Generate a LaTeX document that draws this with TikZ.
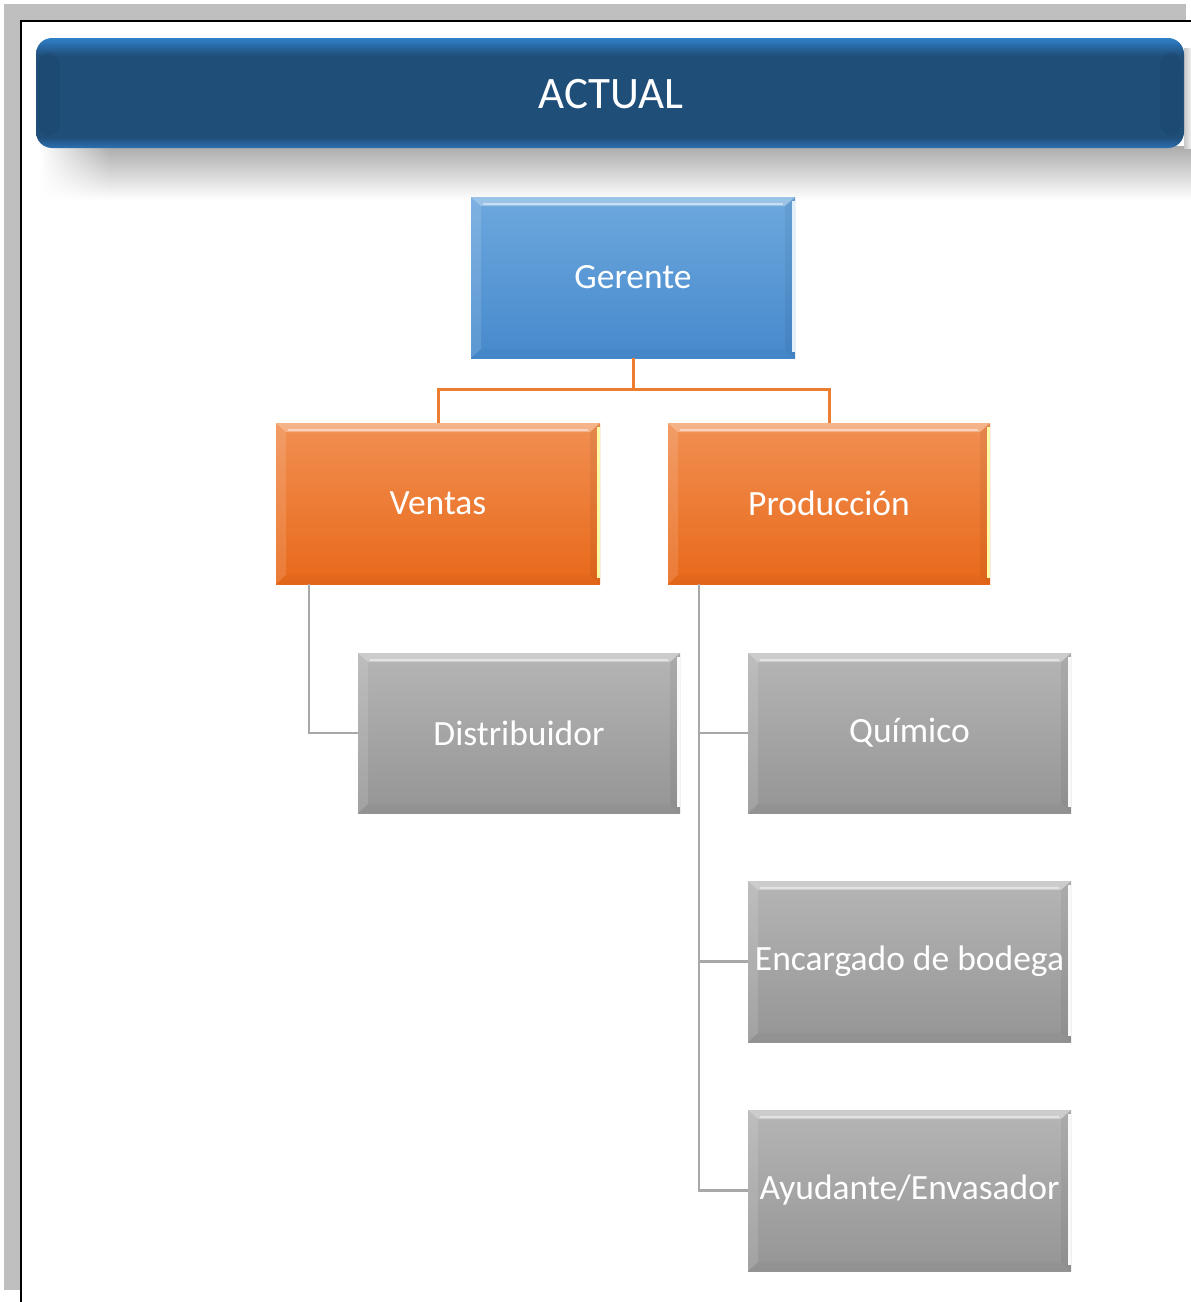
\documentclass[tikz,border=0pt]{standalone}
\usepackage{fontspec}
\setmainfont{Carlito}
\usetikzlibrary{fadings}

\definecolor{framegray}{HTML}{BFBFBF}
\definecolor{hdrdark}{HTML}{1F4E79}
\definecolor{hdrtop}{HTML}{3080C8}
\definecolor{hdrbot}{HTML}{2C70B2}
\definecolor{shadowgray}{HTML}{ABABAB}
\definecolor{bluetop}{HTML}{6DA8DE}
\definecolor{bluebot}{HTML}{4689CC}
\definecolor{orangetop}{HTML}{F18F52}
\definecolor{orangebot}{HTML}{E8691A}
\definecolor{graytop}{HTML}{B5B5B5}
\definecolor{graybot}{HTML}{959595}
\definecolor{linkorange}{HTML}{ED7D31}
\definecolor{linkgray}{HTML}{A8A8A8}

% header band: light rims at top and bottom, dark body
\pgfdeclareverticalshading{headerband}{100bp}{%
  color(0bp)=(hdrbot); color(25bp)=(hdrbot); color(30bp)=(hdrdark);
  color(67bp)=(hdrdark); color(75bp)=(hdrtop); color(100bp)=(hdrtop)}

\tikzset{
  % bevelled box: #1 = colour of the bright right rim
  bevel/.style={path picture={
    \coordinate (nw) at (path picture bounding box.north west);
    \coordinate (ne) at (path picture bounding box.north east);
    \coordinate (sw) at (path picture bounding box.south west);
    \coordinate (se) at (path picture bounding box.south east);
    \fill[white,opacity=.32] (nw) -- (ne) -- ([xshift=-10pt,yshift=-9pt]ne)
      -- ([xshift=10pt,yshift=-9pt]nw) -- cycle;
    \draw[white,opacity=.45,line width=2pt]
      ([xshift=12pt,yshift=-7pt]nw) -- ([xshift=-12pt,yshift=-7pt]ne);
    \fill[white,opacity=.12] (nw) -- ([xshift=10pt,yshift=-9pt]nw)
      -- ([xshift=10pt,yshift=9pt]sw) -- (sw) -- cycle;
    \fill[black,opacity=.025] (sw) -- ([xshift=10pt,yshift=9pt]sw)
      -- ([xshift=-10pt,yshift=9pt]se) -- (se) -- cycle;
    \fill[black,opacity=.05] (ne) -- ([xshift=-10pt,yshift=-9pt]ne)
      -- ([xshift=-10pt,yshift=9pt]se) -- (se) -- cycle;
    \draw[#1,line width=3pt] ([xshift=-1.5pt,yshift=-4pt]ne) -- ([xshift=-1.5pt,yshift=6pt]se);
  }},
  unitbox/.style={rectangle, inner sep=0pt, text=white,
    font=\fontsize{35.5}{41}\selectfont},
  bluebox/.style={unitbox, top color=bluetop, bottom color=bluebot,
    bevel={white!80!bluetop}, minimum width=324pt, minimum height=161pt},
  orangebox/.style={unitbox, top color=orangetop, bottom color=orangebot,
    bevel={yellow!35!white}, minimum width=323pt, minimum height=161pt},
  graybox/.style={unitbox, top color=graytop, bottom color=graybot,
    bevel={white!90!graytop}, minimum width=323pt, minimum height=160pt},
  orangelink/.style={draw=linkorange, line width=3pt},
  graylink/.style={draw=linkgray, line width=2.5pt},
}

\begin{document}
\begin{tikzpicture}[x=1pt,y=-1pt]
\useasboundingbox (0,0) rectangle (1191,1302);
\fill[white] (0,0) rectangle (1191,1302);

% page frame
\fill[framegray] (4,4) rectangle (1186,20);
\fill[framegray] (4,20) rectangle (20,1290);
\draw[black,line width=1.6pt] (20.8,1302) -- (20.8,20.8) -- (1191,20.8);

% header shadow
\shade[top color=shadowgray, bottom color=white] (110,146) rectangle (1191,200);
\shade[top color=shadowgray, bottom color=white, path fading=west]
  (40,146) rectangle (110,200);
\shade[left color=black!22, right color=black!6] (1184,48) rectangle (1191,148);

% header
\shade[shading=headerband, rounded corners=16pt] (36,38) rectangle (1184,148);
\fill[black,opacity=.05,rounded corners=14pt] (38,52) rectangle (60,136);
\fill[black,opacity=.05,rounded corners=14pt] (1160,52) rectangle (1182,136);
\node[text=white, font=\fontsize{45}{52}\selectfont] (title) at (611,94) {ACTUAL};

% boxes
\node[bluebox] (gerente) at (633,277.5) {Gerente};
\node[orangebox, minimum width=324pt] (ventas) at (438,503.5) {Ventas};
\node[orangebox, minimum width=322pt] (produccion) at (829,503.5) {Producción};
\node[graybox, minimum width=322pt] (distribuidor) at (519,733) {Distribuidor};
\node[graybox] (quimico) at (909.5,733) {Químico};
\node[graybox, minimum height=161pt] (encargado) at (909.5,961.5) {Encargado de bodega};
\node[graybox, minimum height=161pt] (ayudante) at (909.5,1190.5) {Ayudante/Envasador};

% connectors
\coordinate (split) at ([yshift=-31pt]gerente.south);
\path[orangelink] (gerente.south) -- (split) -| (ventas.north);
\path[orangelink] (split) -| (produccion.north);
\path[graylink] ([xshift=33pt]ventas.south west) |- (distribuidor.west);
\path[graylink] ([xshift=31pt]produccion.south west) |- (ayudante.west);
\path[graylink] ([xshift=31pt]produccion.south west) |- (quimico.west);
\path[graylink] ([xshift=31pt]produccion.south west) |- (encargado.west);
\end{tikzpicture}
\end{document}
